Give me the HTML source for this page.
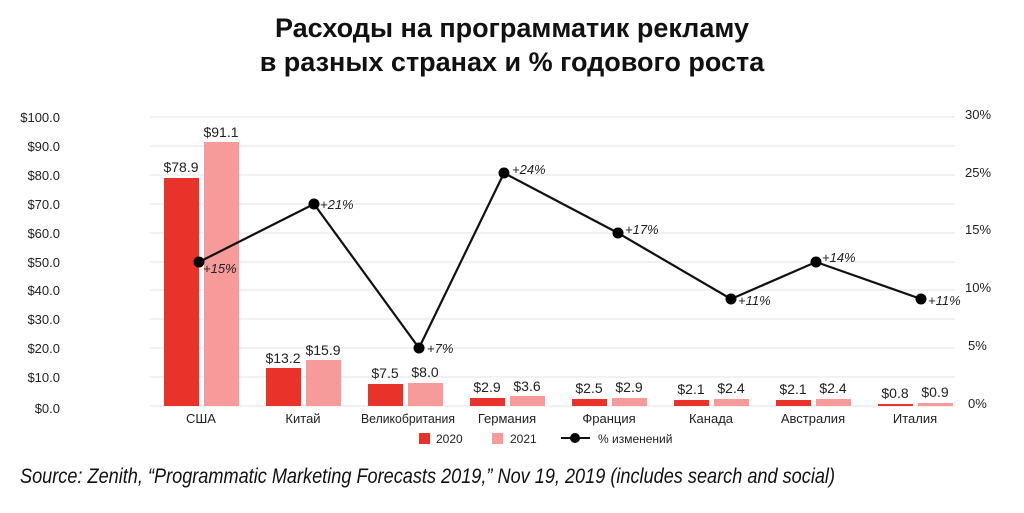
<!DOCTYPE html>
<html><head><meta charset="utf-8"><style>
body{margin:0;background:#fff;width:1024px;height:508px;overflow:hidden}
svg text{font-family:"Liberation Sans Narrow","Liberation Sans","DejaVu Sans Condensed",sans-serif}
</style></head><body>
<svg width="1024" height="508" xmlns="http://www.w3.org/2000/svg">
<g font-weight="bold" font-size="27" text-anchor="middle" fill="#111">
<text x="512" y="37">Расходы на программатик рекламу</text>
<text x="512" y="71">в разных странах и % годового роста</text>
</g>
<g stroke="#e3e3e3" stroke-width="1">
<line x1="150" x2="955" y1="117" y2="117"/><line x1="150" x2="955" y1="146" y2="146"/>
<line x1="150" x2="955" y1="175" y2="175"/><line x1="150" x2="955" y1="204" y2="204"/>
<line x1="150" x2="955" y1="233" y2="233"/><line x1="150" x2="955" y1="262" y2="262"/>
<line x1="150" x2="955" y1="290" y2="290"/><line x1="150" x2="955" y1="319" y2="319"/>
<line x1="150" x2="955" y1="348" y2="348"/><line x1="150" x2="955" y1="377" y2="377"/>
<line x1="150" x2="955" y1="406" y2="406"/>
</g>
<g font-size="13" fill="#222" text-anchor="end">
<text x="60" y="122">$100.0</text><text x="60" y="151">$90.0</text><text x="60" y="180">$80.0</text>
<text x="60" y="209">$70.0</text><text x="60" y="238">$60.0</text><text x="60" y="267">$50.0</text>
<text x="60" y="295">$40.0</text><text x="60" y="324">$30.0</text><text x="60" y="353">$20.0</text>
<text x="60" y="382">$10.0</text><text x="60" y="413">$0.0</text>
</g>
<g font-size="13" fill="#222" text-anchor="start">
<text x="965" y="119">30%</text><text x="965" y="177">25%</text><text x="965" y="234">15%</text>
<text x="965" y="292">10%</text><text x="968" y="350">5%</text><text x="968" y="408">0%</text>
</g>
<g fill="#e8322a">
<rect x="164" y="178" width="35" height="228"/><rect x="266" y="368" width="35" height="38"/>
<rect x="368" y="384" width="35" height="22"/><rect x="470" y="398" width="35" height="8"/>
<rect x="572" y="399" width="35" height="7"/><rect x="674" y="400" width="35" height="6"/>
<rect x="776" y="400" width="35" height="6"/><rect x="878" y="404" width="35" height="2"/>
</g>
<g fill="#f79a9a">
<rect x="204" y="142" width="35" height="264"/><rect x="306" y="360" width="35" height="46"/>
<rect x="408" y="383" width="35" height="23"/><rect x="510" y="396" width="35" height="10"/>
<rect x="612" y="398" width="35" height="8"/><rect x="714" y="399" width="35" height="7"/>
<rect x="816" y="399" width="35" height="7"/><rect x="918" y="403" width="35" height="3"/>
</g>
<g font-size="14" fill="#222" text-anchor="middle">
<text x="181" y="172">$78.9</text><text x="221" y="137">$91.1</text>
<text x="283" y="363">$13.2</text><text x="323" y="355">$15.9</text>
<text x="385" y="378">$7.5</text><text x="425" y="377">$8.0</text>
<text x="487" y="392">$2.9</text><text x="527" y="391">$3.6</text>
<text x="589" y="393">$2.5</text><text x="629" y="392">$2.9</text>
<text x="691" y="394">$2.1</text><text x="731" y="393">$2.4</text>
<text x="793" y="394">$2.1</text><text x="833" y="393">$2.4</text>
<text x="895" y="398">$0.8</text><text x="935" y="397">$0.9</text>
</g>
<g font-size="13" fill="#222" text-anchor="middle">
<text x="201" y="423">США</text><text x="303" y="423">Китай</text><text x="408" y="423" textLength="94" lengthAdjust="spacingAndGlyphs">Великобритания</text>
<text x="507" y="423">Германия</text><text x="609" y="423">Франция</text><text x="711" y="423">Канада</text>
<text x="813" y="423">Австралия</text><text x="915" y="423">Италия</text>
</g>
<polyline fill="none" stroke="#111" stroke-width="2.2" points="199,262 314,204 419,348 504,173 618,233 731,299 816,262 921,299"/>
<g fill="#000">
<circle cx="199" cy="262" r="5.5"/><circle cx="314" cy="204" r="5.5"/><circle cx="419" cy="348" r="5.5"/>
<circle cx="504" cy="173" r="5.5"/><circle cx="618" cy="233" r="5.5"/><circle cx="731" cy="299" r="5.5"/>
<circle cx="816" cy="262" r="5.5"/><circle cx="921" cy="299" r="5.5"/>
</g>
<g font-size="13" font-style="italic" fill="#222">
<text x="203" y="273">+15%</text><text x="320" y="209">+21%</text><text x="427" y="353">+7%</text>
<text x="512" y="174">+24%</text><text x="625" y="234">+17%</text><text x="738" y="305">+11%</text>
<text x="822" y="262">+14%</text><text x="928" y="305">+11%</text>
</g>
<rect x="419" y="433" width="11" height="11" fill="#e8322a"/>
<text x="436" y="443" font-size="12" fill="#222">2020</text>
<rect x="492" y="433" width="11" height="11" fill="#f79a9a"/>
<text x="510" y="443" font-size="12" fill="#222">2021</text>
<line x1="561" x2="590" y1="438" y2="438" stroke="#111" stroke-width="2"/>
<circle cx="575" cy="438" r="5" fill="#000"/>
<text x="598" y="443" font-size="12" fill="#222">% изменений</text>
<text x="20" y="483" font-size="21" font-style="italic" fill="#111" textLength="815" lengthAdjust="spacingAndGlyphs">Source: Zenith, “Programmatic Marketing Forecasts 2019,” Nov 19, 2019 (includes search and social)</text>
</svg>
</body></html>
